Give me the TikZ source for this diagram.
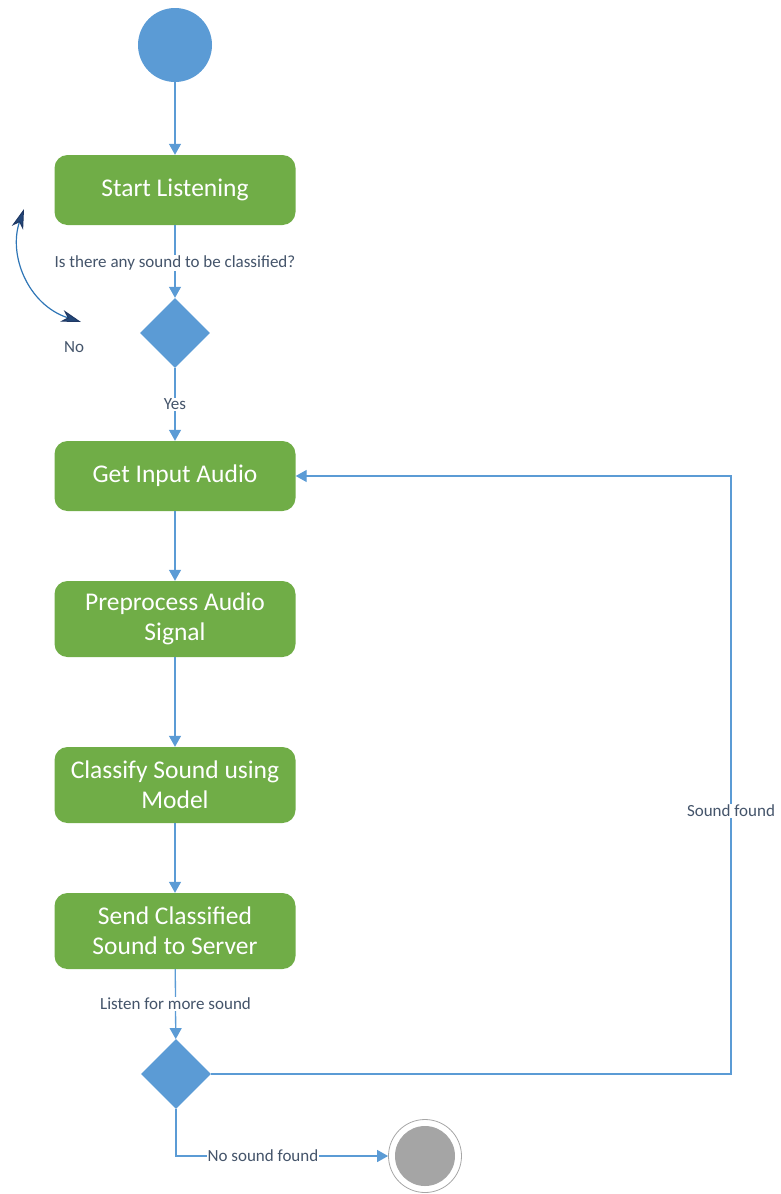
\documentclass[tikz,border=0pt]{standalone}
\usepackage{fontspec}
\setmainfont{Carlito}
\usetikzlibrary{arrows.meta,shapes.geometric}
\definecolor{umlblue}{HTML}{5B9BD5}
\definecolor{umlgreen}{HTML}{70AD47}
\definecolor{labelblue}{HTML}{44546A}
\definecolor{navy}{HTML}{1F3864}
\definecolor{curveblue}{HTML}{2E75B6}
\definecolor{endgray}{HTML}{A5A5A5}
\tikzset{
  action/.style={rectangle, rounded corners=13pt, fill=umlgreen, draw=none,
    minimum width=241pt, minimum height=70pt, text=white, align=center,
    font=\fontsize{25.5}{30}\selectfont, inner sep=0pt},
  tallaction/.style={action, minimum height=76pt},
  decision/.style={diamond, fill=umlblue, draw=none, minimum width=70pt,
    minimum height=70pt, inner sep=0pt, aspect=1},
  flow/.style={draw=umlblue, line width=1.3pt,
    -{Triangle[length=11pt,width=12pt]}},
  guard/.style={fill=white, text=labelblue, font=\fontsize{17}{19}\selectfont,
    inner sep=1pt},
  loophead/.tip={Stealth[length=20pt,width=12pt,inset=6pt,line width=1pt,color=navy,fill=navy!75!curveblue]},
}
\begin{document}
\begin{tikzpicture}[x=1pt,y=-1pt]
  \path[use as bounding box] (0,0) rectangle (781,1194);

  % initial and final states
  \node[circle, fill=umlblue, minimum size=74pt, inner sep=0pt] (start) at (175,45) {};
  \node[circle, draw=gray!70, line width=0.8pt, minimum size=73pt, inner sep=0pt] (finish) at (425,1156) {};
  \node[circle, fill=endgray, minimum size=60pt, inner sep=0pt] (finishdot) at (425,1156) {};

  % activities
  \node[action] (listen) at (175,190) {Start Listening};
  \node[decision] (d1) at (175,333) {};
  \node[action] (input) at (175,476) {Get Input Audio};
  \node[tallaction] (prep) at (175,619) {Preprocess Audio\\Signal};
  \node[tallaction] (classify) at (175,785) {Classify Sound using\\Model};
  \node[tallaction] (send) at (175,931) {Send Classified\\Sound to Server};
  \node[decision] (d2) at (176,1074) {};

  % helper points for the loops
  \coordinate (loopA) at (731,1074);
  \coordinate (loopB) at (731,476);
  \coordinate (turn) at (176,1156);
  \coordinate (noA) at (81,322);
  \coordinate (noB) at (24,209);

  % control flow
  \draw[flow] (start) -- (listen);
  \draw[flow] (listen) -- node[guard, pos=0.52] {Is there any sound to be classified?} (d1);
  \draw[flow] (d1) -- node[guard, pos=0.5] {Yes} (input);
  \draw[flow] (input) -- (prep);
  \draw[flow] (prep) -- (classify);
  \draw[flow] (classify) -- (send);
  \draw[flow] (send) -- node[guard, pos=0.5] {Listen for more sound} (d2);
  \draw[flow] (d2.east) -- (loopA) -- node[guard, pos=0.44] {Sound found} (loopB) -- (input.east);
  \draw[flow] (d2.south) -- (turn) -- node[guard, pos=0.41] {No sound found} (finish.west);

  % the "No" branch loops back to listening
  \draw[curveblue, line width=1.2pt, {loophead}-{loophead}]
    (noB) .. controls (8,255) and (28,305) .. (noA);
  \node[text=labelblue, font=\fontsize{17}{19}\selectfont] (nolabel) at (74,347) {No};
\end{tikzpicture}
\end{document}
